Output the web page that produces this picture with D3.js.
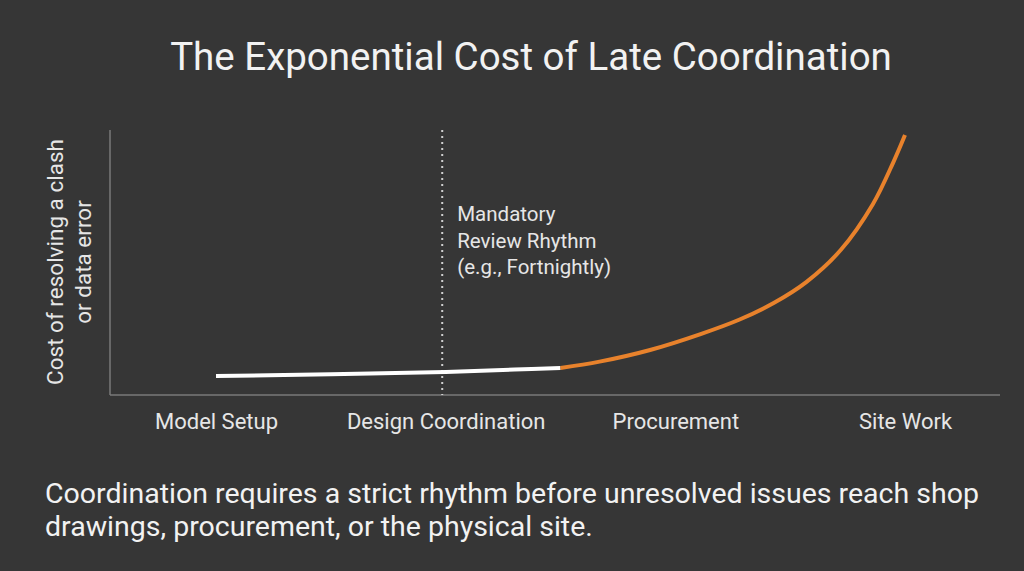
<!DOCTYPE html>
<html>
<head>
<meta charset="utf-8">
<script src="https://cdn.jsdelivr.net/npm/d3@7"></script>
<style>
  html, body { margin: 0; padding: 0; background: #363636; }
  svg { display: block; font-family: Roboto, "Noto Sans", sans-serif; }
</style>
</head>
<body>
<svg id="chart"></svg>
<script>
// Stages on the x-axis
const stages = ["Model Setup", "Design Coordination", "Procurement", "Site Work"]

// Cost curve (x = stage position, y = relative cost)
const stagePos = [0, 0.5, 1.0, 1.3, 1.5, 1.67, 1.89, 2.11, 2.28, 2.43, 2.57, 2.72, 2.86, 2.95, 3.0]
const costValues = [7.2, 7.8, 8.7, 9.6, 10.2, 12.6, 17.0, 23.0, 28.5, 34.8, 42.6, 54.7, 72.0, 88.0, 98.1]

// Where the line turns orange, and where the review rhythm sits
const splitAt = 1.5
const reviewAt = 0.985

const title = "The Exponential Cost of Late Coordination"
const yLabel = ["Cost of resolving a clash", "or data error"]
const note = ["Mandatory", "Review Rhythm", "(e.g., Fortnightly)"]
const caption = [
  "Coordination requires a strict rhythm before unresolved issues reach shop",
  "drawings, procurement, or the physical site."
]

const width = 1024
const height = 571

const svg = d3.select("#chart")
  .attr("width", width)
  .attr("height", height)

svg.append("rect")
  .attr("width", width)
  .attr("height", height)
  .attr("fill", "#363636")

// Scales
const x = d3.scaleLinear()
  .domain([0, 3])
  .range([216, 905])

const xBand = d3.scalePoint()
  .domain(stages)
  .range([216, 905])

const y = d3.scaleLinear()
  .domain([0, 100])
  .range([395, 130])

// Title
svg.append("text")
  .attr("x", 531)
  .attr("y", 70)
  .attr("text-anchor", "middle")
  .attr("fill", "#f2f2f2")
  .attr("font-size", 38.5)
  .text(title)

// Axes lines
svg.append("line")
  .attr("x1", 110).attr("x2", 110)
  .attr("y1", 130).attr("y2", 395)
  .attr("stroke", "#7a7a7a")
  .attr("stroke-width", 1.5)

svg.append("g")
  .attr("transform", "translate(0, 395)")
  .call(d3.axisBottom(xBand).tickSize(0).tickPadding(16))
  .call(g => g.select(".domain")
    .attr("d", "M110,0H1000")
    .attr("stroke", "#7a7a7a")
    .attr("stroke-width", 1.5))
  .call(g => g.selectAll(".tick text")
    .attr("fill", "#e6e6e6")
    .attr("font-family", "Roboto, sans-serif")
    .attr("font-size", 22)
    .attr("dy", "0.8em"))

// Y label
svg.append("text")
  .attr("transform", "translate(63, 262) rotate(-90)")
  .attr("text-anchor", "middle")
  .attr("fill", "#e6e6e6")
  .attr("font-size", 22.5)
  .selectAll("tspan")
  .data(yLabel)
  .join("tspan")
  .attr("x", 0)
  .attr("dy", (d, i) => i === 0 ? 0 : 28)
  .text(d => d)

// Review rhythm marker
svg.append("line")
  .attr("x1", x(reviewAt)).attr("x2", x(reviewAt))
  .attr("y1", 130).attr("y2", 395)
  .attr("stroke", "#cfcfcf")
  .attr("stroke-width", 2)
  .attr("stroke-dasharray", "2,4")

svg.append("text")
  .attr("fill", "#e6e6e6")
  .attr("font-size", 20.5)
  .selectAll("tspan")
  .data(note)
  .join("tspan")
  .attr("x", x(reviewAt) + 15)
  .attr("y", (d, i) => 221 + i * 26.5)
  .text(d => d)

// Cost curve
const points = stagePos.map((p, i) => ({ p, v: costValues[i] }))
const line = d3.line()
  .x(d => x(d.p))
  .y(d => y(d.v))
  .curve(d3.curveCatmullRom)

const early = points.filter(d => d.p <= splitAt)
const late = points.filter(d => d.p >= splitAt)

svg.append("path")
  .datum(early)
  .attr("d", line)
  .attr("fill", "none")
  .attr("stroke", "#ffffff")
  .attr("stroke-width", 4)

svg.append("path")
  .datum(late)
  .attr("d", line)
  .attr("fill", "none")
  .attr("stroke", "#e8822c")
  .attr("stroke-width", 4)

// Caption
svg.append("text")
  .attr("fill", "#f2f2f2")
  .attr("font-size", 28.5)
  .selectAll("tspan")
  .data(caption)
  .join("tspan")
  .attr("x", 45)
  .attr("y", (d, i) => 503 + i * 33)
  .text(d => d)
</script>
</body>
</html>
